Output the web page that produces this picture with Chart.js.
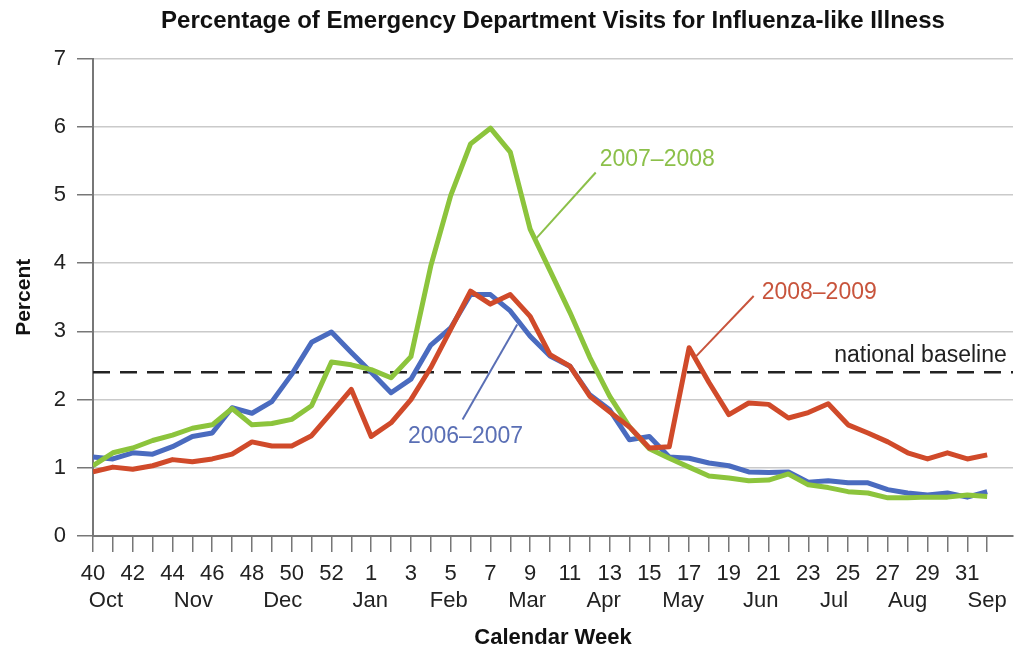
<!DOCTYPE html>
<html>
<head>
<meta charset="utf-8">
<title>Emergency Department Visits for ILI</title>
<script src="https://cdn.jsdelivr.net/npm/chart.js@4.4.1/dist/chart.umd.min.js"></script>
<style>
  html, body { margin: 0; padding: 0; background: #fff; }
  #wrap { width: 1015px; height: 649px; }
</style>
</head>
<body>
<div id="wrap"><canvas id="ili"></canvas></div>
<script>
// calendar weeks of the flu season, week 40 through week 32 of next year
var weeks = ['40','41','42','43','44','45','46','47','48','49','50','51','52','53',
  '1','2','3','4','5','6','7','8','9','10','11','12','13','14','15','16',
  '17','18','19','20','21','22','23','24','25','26','27','28','29','30','31','32'];

// month names and the week (index) they sit under
var months = ['Oct','Nov','Dec','Jan','Feb','Mar','Apr','May','Jun','Jul','Aug','Sep'];
var monthAt = [0.65, 5.05, 9.55, 13.95, 17.9, 21.85, 25.7, 29.7, 33.6, 37.3, 41.0, 45.0];

var yTicks = [0, 1, 2, 3, 4, 5, 6, 7];

// percent of ED visits for ILI
var s0607 = [1.16,1.13,1.22,1.20,1.31,1.46,1.51,1.88,1.80,1.97,2.37,2.84,2.99,2.69,
  2.40,2.10,2.30,2.80,3.05,3.54,3.54,3.30,2.93,2.64,2.49,2.07,1.85,1.41,1.46,1.16,
  1.14,1.07,1.03,0.94,0.93,0.94,0.79,0.81,0.78,0.78,0.68,0.63,0.60,0.63,0.57,0.65];
var s0708 = [1.03,1.22,1.29,1.40,1.48,1.58,1.63,1.87,1.63,1.65,1.71,1.91,2.55,2.51,
  2.44,2.32,2.63,3.96,4.99,5.75,5.98,5.63,4.50,3.89,3.28,2.62,2.05,1.60,1.28,1.14,
  1.01,0.88,0.85,0.81,0.82,0.91,0.75,0.71,0.65,0.63,0.56,0.56,0.57,0.57,0.60,0.58];
var s0809 = [0.94,1.01,0.98,1.03,1.12,1.09,1.13,1.20,1.38,1.32,1.32,1.47,1.81,2.15,
  1.46,1.66,2.00,2.47,3.03,3.59,3.40,3.54,3.22,2.66,2.49,2.05,1.82,1.60,1.29,1.31,
  2.76,2.25,1.78,1.95,1.93,1.73,1.81,1.94,1.63,1.51,1.38,1.22,1.13,1.22,1.13,1.19];
var baseline = 2.4;

var FONT = "'Liberation Sans', Arial, sans-serif";
Chart.defaults.font.family = FONT;
Chart.defaults.color = '#222';

function pts(arr) {
  return arr.map(function (v, i) { return {x: i, y: v}; });
}
var xMax = 46.3;

// season labels with a short leader line pointing at their curve
var callouts = [
  {text: '2007\u20132008', color: '#8cc04a', line: '#8cc04a', tx: 25.5, ty: 5.52, x1: 25.3, y1: 5.33, x2: 22.26, y2: 4.35},
  {text: '2008\u20132009', color: '#c8543c', line: '#c8543c', tx: 33.65, ty: 3.57, x1: 33.25, y1: 3.52, x2: 30.3, y2: 2.62},
  {text: '2006\u20132007', color: '#5a6fb5', line: '#5a6fb5', tx: 15.85, ty: 1.45, x1: 18.6, y1: 1.71, x2: 21.35, y2: 3.10},
  {text: 'national baseline', color: '#222', tx: 37.3, ty: 2.64}
];

var calloutPlugin = {
  id: 'callouts',
  afterDatasetsDraw: function (chart) {
    var ctx = chart.ctx, xs = chart.scales.x, ys = chart.scales.y;
    ctx.save();
    callouts.forEach(function (c) {
      if (c.line) {
        ctx.strokeStyle = c.line;
        ctx.lineWidth = 2;
        ctx.beginPath();
        ctx.moveTo(xs.getPixelForValue(c.x1), ys.getPixelForValue(c.y1));
        ctx.lineTo(xs.getPixelForValue(c.x2), ys.getPixelForValue(c.y2));
        ctx.stroke();
      }
      ctx.fillStyle = c.color;
      ctx.font = '23px ' + FONT;
      ctx.textAlign = 'left';
      ctx.textBaseline = 'middle';
      ctx.fillText(c.text, xs.getPixelForValue(c.tx), ys.getPixelForValue(c.ty));
    });
    ctx.restore();
  }
};

new Chart(document.getElementById('ili'), {
  type: 'line',
  data: {
    datasets: [
      {label: '2008\u20132009', data: pts(s0809), borderColor: '#d04a2a', borderWidth: 5},
      {label: '2007\u20132008', data: pts(s0708), borderColor: '#8cc43c', borderWidth: 5},
      {label: '2006\u20132007', data: pts(s0607), borderColor: '#4a6bbf', borderWidth: 5},
      {label: 'national baseline', data: [{x: 0, y: baseline}, {x: xMax, y: baseline}],
        borderColor: '#222', borderWidth: 2.5, borderDash: [17, 10]}
    ]
  },
  options: {
    responsive: true,
    maintainAspectRatio: false,
    animation: false,
    layout: {padding: {left: 0, right: 2, top: 0, bottom: 0}},
    elements: {
      point: {radius: 0, hoverRadius: 0},
      line: {tension: 0, borderJoinStyle: 'round', borderCapStyle: 'butt'}
    },
    plugins: {
      legend: {display: false},
      tooltip: {enabled: false},
      title: {
        display: true,
        fullSize: false,
        text: 'Percentage of Emergency Department Visits for Influenza-like Illness',
        font: {size: 24, weight: 'bold', lineHeight: 1.15},
        color: '#111',
        padding: {top: 8, bottom: 23}
      }
    },
    scales: {
      x: {
        type: 'linear',
        position: 'bottom',
        min: 0,
        max: xMax,
        afterBuildTicks: function (s) {
          s.ticks = weeks.map(function (w, i) { return {value: i}; });
        },
        afterFit: function (s) { s.height = 48; },
        ticks: {
          autoSkip: false,
          maxRotation: 0,
          padding: 9,
          font: {size: 22},
          color: '#222',
          callback: function (v) { return v % 2 === 0 ? weeks[v] : ''; }
        },
        grid: {drawOnChartArea: false, drawTicks: true, tickLength: 16, tickColor: '#777', lineWidth: 1.5},
        border: {color: '#777', width: 2}
      },
      months: {
        type: 'linear',
        position: 'bottom',
        min: 0,
        max: xMax,
        afterBuildTicks: function (s) {
          s.ticks = monthAt.map(function (m) { return {value: m}; });
        },
        afterFit: function (s) { s.height = 65; },
        ticks: {
          autoSkip: false,
          maxRotation: 0,
          padding: 4,
          font: {size: 22},
          color: '#222',
          callback: function (v, i) { return months[i]; }
        },
        grid: {display: false, drawTicks: false},
        border: {display: false},
        title: {
          display: true,
          text: 'Calendar Week',
          font: {size: 22, weight: 'bold', lineHeight: 1},
          color: '#111',
          padding: {top: 0, bottom: 0}
        }
      },
      y: {
        min: 0,
        max: 7,
        afterBuildTicks: function (s) {
          s.ticks = yTicks.map(function (v) { return {value: v}; });
        },
        afterFit: function (s) { s.width = 93; },
        ticks: {padding: 11, font: {size: 22}, color: '#222'},
        grid: {color: '#cacaca', lineWidth: 1.5, tickLength: 16, tickColor: '#777'},
        border: {color: '#777', width: 2},
        title: {
          display: true,
          text: 'Percent',
          font: {size: 21, weight: 'bold', lineHeight: 1},
          color: '#111',
          padding: {top: 14, bottom: 0}
        }
      }
    }
  },
  plugins: [calloutPlugin]
});
</script>
</body>
</html>
